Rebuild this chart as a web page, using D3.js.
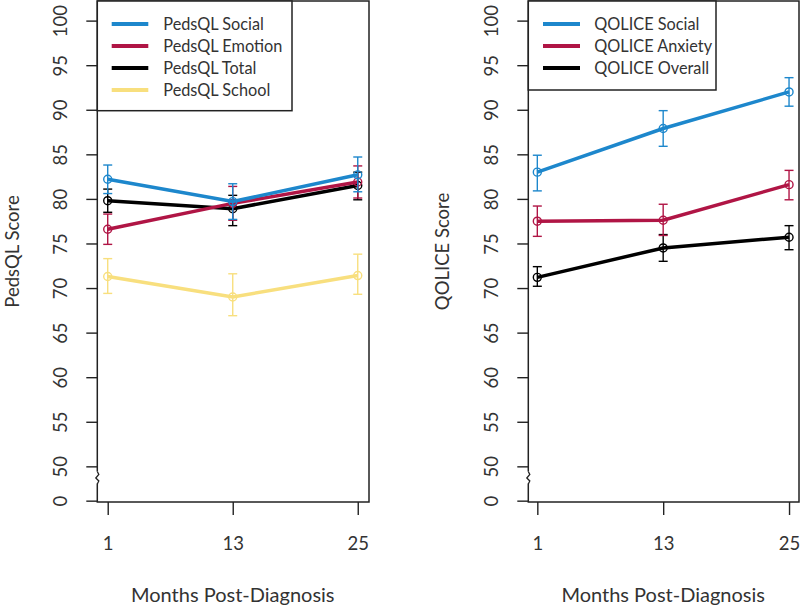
<!DOCTYPE html>
<html>
<head>
<meta charset="utf-8">
<script src="https://cdn.jsdelivr.net/npm/d3@7"></script>
<style>
  html, body { margin: 0; padding: 0; background: #fff; }
  svg { display: block; font-family: Lato, "Open Sans", sans-serif; }
</style>
</head>
<body>
<svg id="chart" width="800" height="607"></svg>
<script>
// ---------- data ----------
const months = [1, 13, 25];
const yTickValues = [50, 55, 60, 65, 70, 75, 80, 85, 90, 95, 100];
const zeroLabel = "0";

// PedsQL panel
const pedsNames = ["PedsQL Social", "PedsQL Emotion", "PedsQL Total", "PedsQL School"];
const pedsSocial     = [82.2, 79.7, 82.7];
const pedsSocialLo   = [80.6, 77.7, 80.8];
const pedsSocialHi   = [83.8, 81.7, 84.7];
const pedsEmotion    = [76.6, 79.5, 81.9];
const pedsEmotionLo  = [74.9, 77.6, 80.1];
const pedsEmotionHi  = [78.3, 81.4, 83.7];
const pedsTotal      = [79.8, 78.9, 81.5];
const pedsTotalLo    = [78.5, 77.0, 79.9];
const pedsTotalHi    = [81.1, 80.4, 83.0];
const pedsSchool     = [71.3, 69.0, 71.4];
const pedsSchoolLo   = [69.4, 66.9, 69.3];
const pedsSchoolHi   = [73.3, 71.6, 73.8];

// QOLICE panel
const qolNames = ["QOLICE Social", "QOLICE Anxiety", "QOLICE Overall"];
const qolSocial      = [83.0, 87.9, 92.0];
const qolSocialLo    = [80.9, 85.9, 90.4];
const qolSocialHi    = [84.9, 89.9, 93.6];
const qolAnxiety     = [77.5, 77.6, 81.6];
const qolAnxietyLo   = [75.8, 75.9, 79.9];
const qolAnxietyHi   = [79.2, 79.4, 83.2];
const qolOverall     = [71.2, 74.5, 75.7];
const qolOverallLo   = [70.2, 73.0, 74.3];
const qolOverallHi   = [72.4, 76.0, 77.0];

// ---------- styles ----------
const BLUE = "#1d87cc", RED = "#b01545", BLACK = "#000000", YELLOW = "#f8df7e";
const INK = "#222", TXT = "#333";

const svg = d3.select("#chart");

const y = d3.scaleLinear().domain([46, 102.2]).range([502, 1]);
const zeroPos = 46.15; // broken-axis position of the "0" label

function panel(opts) {
  const g = svg.append("g");
  const x = d3.scaleLinear().domain(opts.xDomain).range(opts.xRange);
  const [x0, x1] = opts.xRange;
  const top = y.range()[1], bottom = y.range()[0];

  // y axis
  const yAx = d3.axisLeft(y)
    .tickValues([zeroPos].concat(yTickValues))
    .tickFormat(d => d < 50 ? zeroLabel : d)
    .tickSize(11).tickSizeOuter(0);
  const ya = g.append("g").attr("transform", `translate(${x0},0)`).call(yAx);
  ya.select(".domain").remove();
  ya.selectAll(".tick line").attr("stroke", INK).attr("stroke-width", 1.4);
  ya.selectAll(".tick text")
    .attr("x", null).attr("dy", null)
    .attr("transform", "translate(-30.5,0) rotate(-90)")
    .attr("text-anchor", "middle")
    .attr("fill", TXT).style("font-size", "18.5px").style("font-family", "Lato, sans-serif");

  // x axis
  const xAx = d3.axisBottom(x).tickValues(months).tickSize(13).tickSizeOuter(0);
  const xa = g.append("g").attr("transform", `translate(0,${bottom})`).call(xAx);
  xa.select(".domain").remove();
  xa.selectAll(".tick line").attr("stroke", INK).attr("stroke-width", 1.4);
  xa.selectAll(".tick text")
    .attr("y", 48).attr("dy", null)
    .attr("fill", TXT).style("font-size", "18.5px").style("font-family", "Lato, sans-serif");

  // box
  g.append("rect").attr("x", x0).attr("y", top).attr("width", x1 - x0).attr("height", bottom - top)
    .attr("fill", "none").attr("stroke", INK).attr("stroke-width", 1.5);

  // axis break
  g.append("rect").attr("x", x0 - 2).attr("y", 471.5).attr("width", 4).attr("height", 12).attr("fill", "#fff");
  g.append("path")
    .attr("d", `M${x0},471.5 L${x0 + 1.5},474.5 L${x0 - 1.5},478 L${x0 + 1.5},481 L${x0},484`)
    .attr("fill", "none").attr("stroke", INK).attr("stroke-width", 1.3);

  // axis titles
  g.append("text")
    .attr("transform", `translate(${(x(1) + x(25)) / 2},602)`)
    .attr("text-anchor", "middle").attr("fill", TXT).style("font-size", "20px")
    .text("Months Post-Diagnosis");
  g.append("text")
    .attr("transform", `translate(${opts.yTitleX},${(top + bottom) / 2}) rotate(-90)`)
    .attr("text-anchor", "middle").attr("fill", TXT).style("font-size", "18.5px")
    .text(opts.yTitle);

  // series
  const line = d3.line().x((d, i) => x(months[i])).y(d => y(d));
  opts.series.forEach(s => {
    const sg = g.append("g");
    // error bars
    months.forEach((m, i) => {
      sg.append("line").attr("x1", x(m)).attr("x2", x(m))
        .attr("y1", y(s.lo[i])).attr("y2", y(s.hi[i]))
        .attr("stroke", s.color).attr("stroke-width", 1.4);
      [s.lo[i], s.hi[i]].forEach(v => {
        sg.append("line").attr("x1", x(m) - 4.5).attr("x2", x(m) + 4.5)
          .attr("y1", y(v)).attr("y2", y(v))
          .attr("stroke", s.color).attr("stroke-width", 1.4);
      });
    });
    sg.append("path").datum(s.values).attr("d", line)
      .attr("fill", "none").attr("stroke", s.color).attr("stroke-width", 3.5);
    sg.selectAll("circle").data(s.values).join("circle")
      .attr("cx", (d, i) => x(months[i])).attr("cy", d => y(d)).attr("r", 4)
      .attr("fill", "none").attr("stroke", s.color).attr("stroke-width", 1.4);
  });

  // legend
  const L = opts.legend;
  const lg = g.append("g");
  lg.append("rect").attr("x", x0).attr("y", top).attr("width", L.w).attr("height", L.h)
    .attr("fill", "#fff").attr("stroke", INK).attr("stroke-width", 1.5);
  const ly = d3.scalePoint().domain(L.names).range([24, 24 + 22 * (L.names.length - 1)]);
  L.names.forEach((n, i) => {
    lg.append("line").attr("x1", x0 + L.lx1).attr("x2", x0 + L.lx2)
      .attr("y1", ly(n)).attr("y2", ly(n))
      .attr("stroke", L.colors[i]).attr("stroke-width", 4);
    lg.append("text").attr("x", x0 + L.tx).attr("y", ly(n)).attr("dy", "0.36em")
      .attr("fill", TXT).style("font-size", "16.3px").text(n);
  });
}

panel({
  xDomain: [0, 26.08], xRange: [97.3, 369],
  yTitle: "PedsQL Score", yTitleX: 19,
  series: [
    { values: pedsSchool,  lo: pedsSchoolLo,  hi: pedsSchoolHi,  color: YELLOW },
    { values: pedsTotal,   lo: pedsTotalLo,   hi: pedsTotalHi,   color: BLACK },
    { values: pedsEmotion, lo: pedsEmotionLo, hi: pedsEmotionHi, color: RED },
    { values: pedsSocial,  lo: pedsSocialLo,  hi: pedsSocialHi,  color: BLUE }
  ],
  legend: { names: pedsNames, colors: [BLUE, RED, BLACK, YELLOW], w: 194.7, h: 109.7, lx1: 14.4, lx2: 51, tx: 66 }
});

panel({
  xDomain: [0.14, 25.95], xRange: [528.3, 799],
  yTitle: "QOLICE Score", yTitleX: 449,
  series: [
    { values: qolOverall, lo: qolOverallLo, hi: qolOverallHi, color: BLACK },
    { values: qolAnxiety, lo: qolAnxietyLo, hi: qolAnxietyHi, color: RED },
    { values: qolSocial,  lo: qolSocialLo,  hi: qolSocialHi,  color: BLUE }
  ],
  legend: { names: qolNames, colors: [BLUE, RED, BLACK], w: 187.7, h: 89, lx1: 14.7, lx2: 51.7, tx: 66 }
});
</script>
</body>
</html>
